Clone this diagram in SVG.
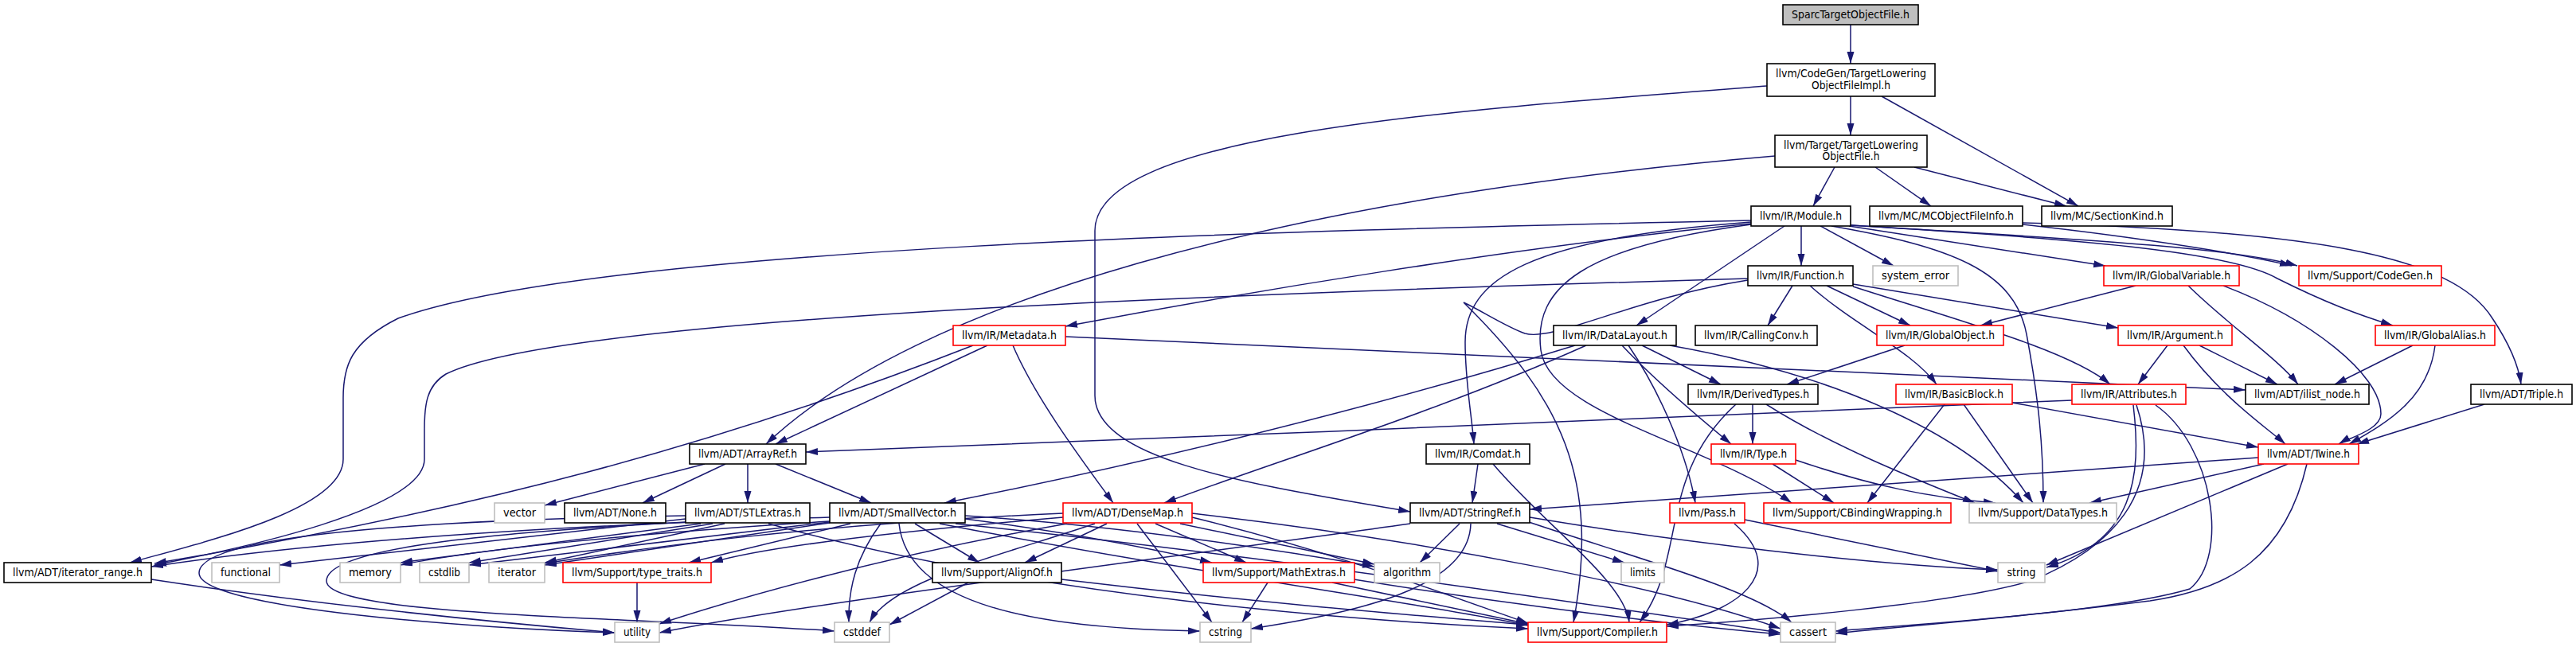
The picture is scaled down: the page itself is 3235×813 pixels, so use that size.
<svg xmlns="http://www.w3.org/2000/svg" width="3235" height="813" viewBox="0 0 3235 813">
<style>
.n rect{fill:#fff;stroke:#000;stroke-width:1.6}
.r rect{stroke:#f00}
.g rect{stroke:#bfbfbf}
.root rect{fill:#bfbfbf}
text{font-family:'DejaVu Sans Condensed','DejaVu Sans',sans-serif;font-size:13.5px;text-anchor:middle;fill:#000}
#edges path{fill:none;stroke:#191970;stroke-width:1.5;marker-end:url(#a)}
</style>
<defs>
<marker id="a" markerUnits="userSpaceOnUse" markerWidth="16" markerHeight="10" refX="15" refY="4.5" orient="auto"><path d="M0,0 L15,4.5 L0,9 z" fill="#191970"/></marker>
</defs>
<rect width="3235" height="813" fill="#fff"/>
<g id="edges">
<path d="M2324,31 L2324,80"/>
<path d="M2324,121 L2324,170"/>
<path d="M2363,121 L2610,259"/>
<path d="M2219,108 C1800,140 1375,170 1375,290 L1375,497 C1375,580 1580,610 1771,643"/>
<path d="M2304,210 L2277,259"/>
<path d="M2355,210 L2425,259"/>
<path d="M2404,210 L2595,259"/>
<path d="M2229,196 C1600,250 1150,380 962,558"/>
<path d="M2262,284 L2262,334"/>
<path d="M2286,284 L2378,334"/>
<path d="M2241,284 L2055,409"/>
<path d="M2199,279 C1920,300 1840,350 1840,430 C1840,480 1848,520 1851,558"/>
<path d="M2199,281 C1900,310 1550,370 1338,410"/>
<path d="M2199,277 C1600,290 750,310 500,400 C440,430 431,460 431,500 L431,577 C431,640 260,680 163,707"/>
<path d="M2199,282 C1990,310 1925,360 1935,440 C1945,520 2150,560 2250,632"/>
<path d="M2300,284 C2450,310 2530,340 2545,420 C2560,500 2566,560 2566,632"/>
<path d="M2322,284 L2644,334"/>
<path d="M2324,283 C2600,300 2800,310 2885,334"/>
<path d="M2325,283 C2600,300 2800,315 2860,350 C2920,380 2960,395 3005,409"/>
<path d="M2540,282 C2700,300 2820,320 2878,334"/>
<path d="M2540,280 C2900,290 3080,320 3130,400 C3150,430 3163,460 3166,483"/>
<path d="M2195,350 C1500,370 700,400 560,470 C535,485 533,510 533,540 L533,577 C533,640 300,690 194,710"/>
<path d="M2251,359 L2220,409"/>
<path d="M2294,359 L2399,409"/>
<path d="M2273,359 C2330,410 2400,440 2432,483"/>
<path d="M2327,360 C2450,400 2600,440 2650,483"/>
<path d="M2327,357 L2660,412"/>
<path d="M2195,352 C2050,375 1950,430 1915,419 C1890,410 1860,390 1838,380 C1960,500 2010,600 1976,782"/>
<path d="M1240,434 L974,558"/>
<path d="M1272,434 C1300,500 1360,580 1398,632"/>
<path d="M1222,434 C900,560 600,640 194,708"/>
<path d="M1338,423 L2820,490"/>
<path d="M1978,434 C1700,520 1400,590 1186,632"/>
<path d="M1992,434 C1800,520 1600,580 1462,632"/>
<path d="M2062,434 L2161,483"/>
<path d="M2037,434 C2080,480 2140,530 2174,558"/>
<path d="M2045,434 C2090,500 2120,580 2129,632"/>
<path d="M2097,434 C2300,470 2460,540 2541,632"/>
<path d="M2392,434 L2244,483"/>
<path d="M2682,359 L2487,409"/>
<path d="M2748,359 C2800,410 2860,450 2886,483"/>
<path d="M2792,359 C2900,400 2990,470 2990,520 C2990,540 2950,550 2937,558"/>
<path d="M2722,434 L2685,483"/>
<path d="M2762,434 L2860,483"/>
<path d="M2742,434 C2790,500 2850,540 2870,558"/>
<path d="M3030,434 L2932,483"/>
<path d="M3058,434 C3050,500 3000,530 2950,558"/>
<path d="M3120,508 L2960,558"/>
<path d="M2602,503 C2300,516 1500,550 1012,568"/>
<path d="M2679,509 C2690,600 2680,680 2570,713"/>
<path d="M2683,509 C2720,620 2650,690 2550,730 C2450,760 2200,780 2093,787"/>
<path d="M2707,509 C2780,560 2800,700 2750,740 C2650,770 2400,785 2305,793"/>
<path d="M2201,508 L2201,558"/>
<path d="M2180,508 C2080,600 2120,700 2059,782"/>
<path d="M2218,508 C2300,560 2400,600 2480,632"/>
<path d="M2527,506 L2836,562"/>
<path d="M2442,508 L2345,632"/>
<path d="M2466,508 L2553,632"/>
<path d="M2226,583 L2303,632"/>
<path d="M2255,578 C2350,610 2420,625 2506,632"/>
<path d="M1856,583 L1849,632"/>
<path d="M1875,583 C1940,660 2040,730 2046,782"/>
<path d="M2836,575 L1921,640"/>
<path d="M2843,583 L2624,632"/>
<path d="M2873,583 L2570,710"/>
<path d="M2897,583 C2870,700 2800,740 2700,755 C2500,780 2350,790 2305,796"/>
<path d="M2191,653 L2509,718"/>
<path d="M2178,658 C2250,720 2180,770 2093,785"/>
<path d="M1833,658 L1783,707"/>
<path d="M1880,658 L2040,707"/>
<path d="M1921,650 C2100,680 2350,710 2509,716"/>
<path d="M1920,656 C2050,700 2200,740 2250,782"/>
<path d="M1847,658 C1845,740 1700,770 1571,790"/>
<path d="M1771,658 C1400,710 1000,760 828,795"/>
<path d="M1042,650 C700,660 400,680 190,712"/>
<path d="M1149,658 L1230,707"/>
<path d="M1212,652 C1350,670 1450,690 1522,707"/>
<path d="M1068,658 L865,707"/>
<path d="M1106,658 C1075,700 1065,740 1066,782"/>
<path d="M1129,658 C1140,760 1300,790 1507,793"/>
<path d="M1212,648 C1400,660 1600,690 1726,712"/>
<path d="M1180,658 C1500,720 1800,760 1919,786"/>
<path d="M1200,658 C1600,700 2000,760 2236,795"/>
<path d="M1042,655 C800,670 600,690 503,710"/>
<path d="M1042,656 L589,710"/>
<path d="M1042,657 L684,710"/>
<path d="M1390,658 L1287,707"/>
<path d="M1451,658 L1565,707"/>
<path d="M1482,658 L1726,709"/>
<path d="M1428,658 L1522,782"/>
<path d="M1375,658 C1250,700 1120,730 1092,782"/>
<path d="M1335,650 C1100,670 950,690 893,707"/>
<path d="M1340,658 C1100,700 900,760 828,784"/>
<path d="M1335,645 C1000,660 800,690 684,708"/>
<path d="M1497,650 C1700,700 1850,760 1919,783"/>
<path d="M1497,645 C1800,680 2100,740 2236,790"/>
<path d="M861,652 L351,710"/>
<path d="M880,658 L503,707"/>
<path d="M895,658 L589,707"/>
<path d="M910,658 L684,707"/>
<path d="M861,648 C450,655 250,680 250,720 C250,765 600,790 772,795"/>
<path d="M861,656 C600,670 410,690 410,730 C410,775 800,775 1048,793"/>
<path d="M965,658 C1300,750 1700,780 1919,790"/>
<path d="M885,583 L684,635"/>
<path d="M911,583 L807,632"/>
<path d="M939,583 L939,632"/>
<path d="M974,583 L1094,632"/>
<path d="M800,732 L800,782"/>
<path d="M190,728 C400,760 600,780 772,795"/>
<path d="M1216,732 L1117,785"/>
<path d="M1333,728 C1600,760 1800,775 1919,785"/>
<path d="M1592,732 L1560,782"/>
<path d="M1673,732 L1919,784"/>
<path d="M1700,728 C1900,760 2100,785 2236,797"/>
</g>
<g id="n-sparc" class="n root"><rect x="2239" y="6" width="170" height="25"/><text x="2324" y="23" textLength="148" lengthAdjust="spacingAndGlyphs">SparcTargetObjectFile.h</text></g>
<g id="n-tlofimpl" class="n"><rect x="2219" y="80" width="211" height="41"/><text x="2324.5" y="97" textLength="189" lengthAdjust="spacingAndGlyphs">llvm/CodeGen/TargetLowering</text><text x="2324.5" y="111.5" textLength="99" lengthAdjust="spacingAndGlyphs">ObjectFileImpl.h</text></g>
<g id="n-tlof" class="n"><rect x="2229" y="170" width="191" height="40"/><text x="2324.5" y="186.5" textLength="169" lengthAdjust="spacingAndGlyphs">llvm/Target/TargetLowering</text><text x="2324.5" y="201" textLength="72" lengthAdjust="spacingAndGlyphs">ObjectFile.h</text></g>
<g id="n-module" class="n"><rect x="2199" y="259" width="125" height="25"/><text x="2261.5" y="276" textLength="103" lengthAdjust="spacingAndGlyphs">llvm/IR/Module.h</text></g>
<g id="n-mcofi" class="n"><rect x="2348" y="259" width="192" height="25"/><text x="2444" y="276" textLength="170" lengthAdjust="spacingAndGlyphs">llvm/MC/MCObjectFileInfo.h</text></g>
<g id="n-sectionkind" class="n"><rect x="2564" y="259" width="164" height="25"/><text x="2646" y="276" textLength="142" lengthAdjust="spacingAndGlyphs">llvm/MC/SectionKind.h</text></g>
<g id="n-function" class="n"><rect x="2195" y="334" width="132" height="25"/><text x="2261" y="351" textLength="110" lengthAdjust="spacingAndGlyphs">llvm/IR/Function.h</text></g>
<g id="n-system_error" class="n g"><rect x="2352" y="334" width="107" height="25"/><text x="2405.5" y="351" textLength="85" lengthAdjust="spacingAndGlyphs">system_error</text></g>
<g id="n-globalvariable" class="n r"><rect x="2642" y="334" width="170" height="25"/><text x="2727" y="351" textLength="148" lengthAdjust="spacingAndGlyphs">llvm/IR/GlobalVariable.h</text></g>
<g id="n-codegen" class="n r"><rect x="2887" y="334" width="179" height="25"/><text x="2976.5" y="351" textLength="157" lengthAdjust="spacingAndGlyphs">llvm/Support/CodeGen.h</text></g>
<g id="n-metadata" class="n r"><rect x="1197" y="409" width="141" height="25"/><text x="1267.5" y="426" textLength="119" lengthAdjust="spacingAndGlyphs">llvm/IR/Metadata.h</text></g>
<g id="n-datalayout" class="n"><rect x="1951" y="409" width="154" height="25"/><text x="2028" y="426" textLength="132" lengthAdjust="spacingAndGlyphs">llvm/IR/DataLayout.h</text></g>
<g id="n-callingconv" class="n"><rect x="2129" y="409" width="153" height="25"/><text x="2205.5" y="426" textLength="131" lengthAdjust="spacingAndGlyphs">llvm/IR/CallingConv.h</text></g>
<g id="n-globalobject" class="n r"><rect x="2357" y="409" width="159" height="25"/><text x="2436.5" y="426" textLength="137" lengthAdjust="spacingAndGlyphs">llvm/IR/GlobalObject.h</text></g>
<g id="n-argument" class="n r"><rect x="2660" y="409" width="143" height="25"/><text x="2731.5" y="426" textLength="121" lengthAdjust="spacingAndGlyphs">llvm/IR/Argument.h</text></g>
<g id="n-globalalias" class="n r"><rect x="2983" y="409" width="150" height="25"/><text x="3058" y="426" textLength="128" lengthAdjust="spacingAndGlyphs">llvm/IR/GlobalAlias.h</text></g>
<g id="n-derivedtypes" class="n"><rect x="2120" y="483" width="163" height="25"/><text x="2201.5" y="500" textLength="141" lengthAdjust="spacingAndGlyphs">llvm/IR/DerivedTypes.h</text></g>
<g id="n-basicblock" class="n r"><rect x="2381" y="483" width="146" height="25"/><text x="2454" y="500" textLength="124" lengthAdjust="spacingAndGlyphs">llvm/IR/BasicBlock.h</text></g>
<g id="n-attributes" class="n r"><rect x="2602" y="483" width="143" height="25"/><text x="2673.5" y="500" textLength="121" lengthAdjust="spacingAndGlyphs">llvm/IR/Attributes.h</text></g>
<g id="n-ilist_node" class="n"><rect x="2820" y="483" width="155" height="25"/><text x="2897.5" y="500" textLength="133" lengthAdjust="spacingAndGlyphs">llvm/ADT/ilist_node.h</text></g>
<g id="n-triple" class="n"><rect x="3103" y="483" width="127" height="25"/><text x="3166.5" y="500" textLength="105" lengthAdjust="spacingAndGlyphs">llvm/ADT/Triple.h</text></g>
<g id="n-arrayref" class="n"><rect x="866" y="558" width="146" height="25"/><text x="939" y="575" textLength="124" lengthAdjust="spacingAndGlyphs">llvm/ADT/ArrayRef.h</text></g>
<g id="n-comdat" class="n"><rect x="1791" y="558" width="130" height="25"/><text x="1856" y="575" textLength="108" lengthAdjust="spacingAndGlyphs">llvm/IR/Comdat.h</text></g>
<g id="n-type" class="n r"><rect x="2149" y="558" width="106" height="25"/><text x="2202" y="575" textLength="84" lengthAdjust="spacingAndGlyphs">llvm/IR/Type.h</text></g>
<g id="n-twine" class="n r"><rect x="2836" y="558" width="126" height="25"/><text x="2899" y="575" textLength="104" lengthAdjust="spacingAndGlyphs">llvm/ADT/Twine.h</text></g>
<g id="n-vector" class="n g"><rect x="621" y="632" width="63" height="25"/><text x="652.5" y="649" textLength="41" lengthAdjust="spacingAndGlyphs">vector</text></g>
<g id="n-none" class="n"><rect x="709" y="632" width="127" height="25"/><text x="772.5" y="649" textLength="105" lengthAdjust="spacingAndGlyphs">llvm/ADT/None.h</text></g>
<g id="n-stlextras" class="n"><rect x="861" y="632" width="156" height="25"/><text x="939" y="649" textLength="134" lengthAdjust="spacingAndGlyphs">llvm/ADT/STLExtras.h</text></g>
<g id="n-smallvector" class="n"><rect x="1042" y="632" width="170" height="25"/><text x="1127" y="649" textLength="148" lengthAdjust="spacingAndGlyphs">llvm/ADT/SmallVector.h</text></g>
<g id="n-densemap" class="n r"><rect x="1335" y="632" width="162" height="25"/><text x="1416" y="649" textLength="140" lengthAdjust="spacingAndGlyphs">llvm/ADT/DenseMap.h</text></g>
<g id="n-stringref" class="n"><rect x="1771" y="632" width="150" height="25"/><text x="1846" y="649" textLength="128" lengthAdjust="spacingAndGlyphs">llvm/ADT/StringRef.h</text></g>
<g id="n-pass" class="n r"><rect x="2097" y="632" width="94" height="25"/><text x="2144" y="649" textLength="72" lengthAdjust="spacingAndGlyphs">llvm/Pass.h</text></g>
<g id="n-cbinding" class="n r"><rect x="2215" y="632" width="235" height="25"/><text x="2332.5" y="649" textLength="213" lengthAdjust="spacingAndGlyphs">llvm/Support/CBindingWrapping.h</text></g>
<g id="n-datatypes" class="n g"><rect x="2473" y="632" width="185" height="25"/><text x="2565.5" y="649" textLength="163" lengthAdjust="spacingAndGlyphs">llvm/Support/DataTypes.h</text></g>
<g id="n-iterator_range" class="n"><rect x="5" y="707" width="185" height="25"/><text x="97.5" y="724" textLength="163" lengthAdjust="spacingAndGlyphs">llvm/ADT/iterator_range.h</text></g>
<g id="n-functional" class="n g"><rect x="266" y="707" width="85" height="25"/><text x="308.5" y="724" textLength="63" lengthAdjust="spacingAndGlyphs">functional</text></g>
<g id="n-memory" class="n g"><rect x="427" y="707" width="76" height="25"/><text x="465" y="724" textLength="54" lengthAdjust="spacingAndGlyphs">memory</text></g>
<g id="n-cstdlib" class="n g"><rect x="527" y="707" width="62" height="25"/><text x="558" y="724" textLength="40" lengthAdjust="spacingAndGlyphs">cstdlib</text></g>
<g id="n-iterator" class="n g"><rect x="614" y="707" width="70" height="25"/><text x="649" y="724" textLength="48" lengthAdjust="spacingAndGlyphs">iterator</text></g>
<g id="n-type_traits" class="n r"><rect x="707" y="707" width="186" height="25"/><text x="800" y="724" textLength="164" lengthAdjust="spacingAndGlyphs">llvm/Support/type_traits.h</text></g>
<g id="n-alignof" class="n"><rect x="1171" y="707" width="162" height="25"/><text x="1252" y="724" textLength="140" lengthAdjust="spacingAndGlyphs">llvm/Support/AlignOf.h</text></g>
<g id="n-mathextras" class="n r"><rect x="1511" y="707" width="190" height="25"/><text x="1606" y="724" textLength="168" lengthAdjust="spacingAndGlyphs">llvm/Support/MathExtras.h</text></g>
<g id="n-algorithm" class="n g"><rect x="1726" y="707" width="82" height="25"/><text x="1767" y="724" textLength="60" lengthAdjust="spacingAndGlyphs">algorithm</text></g>
<g id="n-limits" class="n g"><rect x="2036" y="707" width="54" height="25"/><text x="2063" y="724" textLength="32" lengthAdjust="spacingAndGlyphs">limits</text></g>
<g id="n-string" class="n g"><rect x="2509" y="707" width="59" height="25"/><text x="2538.5" y="724" textLength="36" lengthAdjust="spacingAndGlyphs">string</text></g>
<g id="n-utility" class="n g"><rect x="772" y="782" width="56" height="25"/><text x="800" y="799" textLength="34" lengthAdjust="spacingAndGlyphs">utility</text></g>
<g id="n-cstddef" class="n g"><rect x="1048" y="782" width="69" height="25"/><text x="1082.5" y="799" textLength="47" lengthAdjust="spacingAndGlyphs">cstddef</text></g>
<g id="n-cstring" class="n g"><rect x="1507" y="782" width="64" height="25"/><text x="1539" y="799" textLength="42" lengthAdjust="spacingAndGlyphs">cstring</text></g>
<g id="n-compiler" class="n r"><rect x="1919" y="782" width="174" height="25"/><text x="2006" y="799" textLength="152" lengthAdjust="spacingAndGlyphs">llvm/Support/Compiler.h</text></g>
<g id="n-cassert" class="n g"><rect x="2236" y="782" width="69" height="25"/><text x="2270.5" y="799" textLength="47" lengthAdjust="spacingAndGlyphs">cassert</text></g>
</svg>
